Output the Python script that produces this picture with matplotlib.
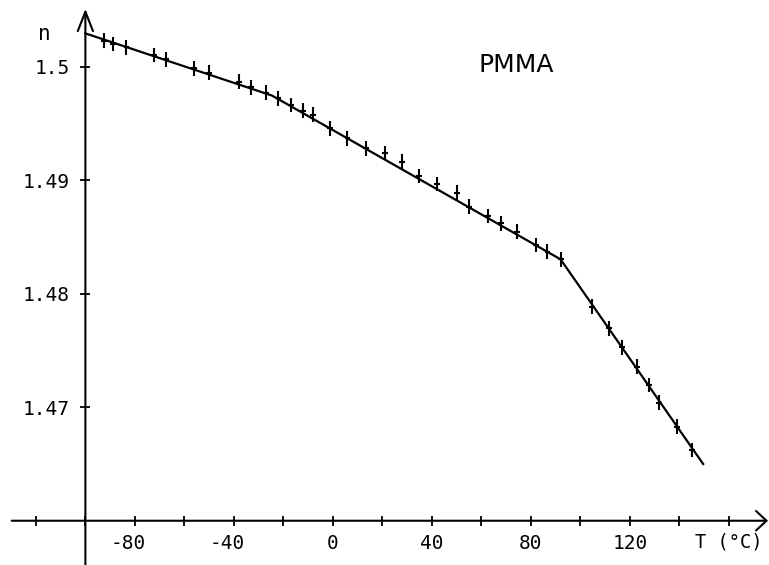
import matplotlib
matplotlib.use("Agg")
import matplotlib.pyplot as plt
import numpy as np

# measured refractive index of PMMA vs temperature
temp = [-92.5, -88.8, -83.4, -72.3, -67.5, -56.2, -50.1, -38.0, -33.1, -27.2,
        -22.1, -17.1, -12.2, -8.2, -1.2, 5.9, 13.2, 21.0, 28.0, 34.9,
        41.9, 50.0, 55.1, 62.7, 67.8, 74.2, 81.9, 86.7, 92.0, 104.8,
        111.6, 116.9, 123.0, 127.8, 131.8, 138.9, 145.2]
n_meas = [1.50229, 1.50200, 1.50171, 1.50103, 1.50065, 1.49986, 1.49947, 1.49868, 1.49819, 1.49771,
          1.49722, 1.49663, 1.49612, 1.49577, 1.49457, 1.49369, 1.49281, 1.49241, 1.49163, 1.49037,
          1.48967, 1.48890, 1.48767, 1.48685, 1.48620, 1.48546, 1.48429, 1.48370, 1.48303, 1.47885,
          1.47695, 1.47528, 1.47357, 1.47196, 1.47040, 1.46828, 1.46623]
n_err = 0.00065
t_err = 1.2

# piecewise linear fit
fit_temp = [-100.0, -24.6, 92.0, 149.6]
fit_n = [1.50294, 1.49746, 1.48303, 1.46500]

x_labels = [-80, -40, 0, 40, 80, 120]
x_minor = [-120, -100, -60, -20, 20, 60, 100, 140, 160]
y_ticks = [1.47, 1.48, 1.49, 1.5]
y_labels = ["1.47", "1.48", "1.49", "1.5"]

mono = "DejaVu Sans Mono"

fig = plt.figure(figsize=(7.69, 5.65), dpi=100)
ax = fig.add_axes([0, 0, 1, 1])
ax.set_xlim(-134.5, 176.2)
ax.set_ylim(1.45610, 1.50588)
ax.patch.set_visible(False)

ax.spines["top"].set_visible(False)
ax.spines["right"].set_visible(False)
ax.spines["left"].set_position(("data", -100))
ax.spines["bottom"].set_position(("data", 1.46))
ax.spines["left"].set_visible(False)
ax.spines["bottom"].set_visible(False)

# axes drawn as arrows
ax.annotate("", xy=(-100, 1.5051), xytext=(-100, 1.45610),
            arrowprops=dict(arrowstyle="->,head_length=14,head_width=5.5",
                            mutation_scale=1, lw=1.5, color="black",
                            shrinkA=0, shrinkB=0))
ax.annotate("", xy=(175.8, 1.46), xytext=(-129.8, 1.46),
            arrowprops=dict(arrowstyle="->,head_length=7.5,head_width=7",
                            mutation_scale=1, lw=1.5, color="black",
                            shrinkA=0, shrinkB=0))

ax.set_xticks(x_labels)
ax.set_xticklabels([])
ax.set_xticks(x_minor, minor=True)
ax.tick_params(axis="x", which="both", direction="inout", length=7.5, width=1.3)
ax.set_yticks(y_ticks)
ax.set_yticklabels(y_labels, fontfamily=mono, fontsize=14)
ax.tick_params(axis="y", direction="inout", length=7.5, width=1.3, pad=7.7)

for t in x_labels:
    lbl = str(t)
    dx = -7 if lbl.startswith("-") else 0
    ax.annotate(lbl, xy=(t, 1.46), xytext=(dx, -22.5), textcoords="offset pixels",
                ha="center", va="center", fontfamily=mono, fontsize=14)

ax.text(159.8, 1.46 - 0.00185, "T (°C)", ha="center", va="center",
        fontfamily=mono, fontsize=13.5)
ax.text(-116.4, 1.50288, "n", ha="center", va="center", fontfamily=mono, fontsize=15)
ax.text(73.9, 1.50015, "PMMA", ha="center", va="center",
        fontfamily="DejaVu Sans", fontsize=18)

ax.plot(fit_temp, fit_n, color="black", lw=1.6, solid_joinstyle="round")
ax.errorbar(temp, n_meas, yerr=n_err, xerr=t_err, fmt="none", ecolor="black",
            elinewidth=1.5, capsize=0)

fig.savefig("out.png", dpi=100)
